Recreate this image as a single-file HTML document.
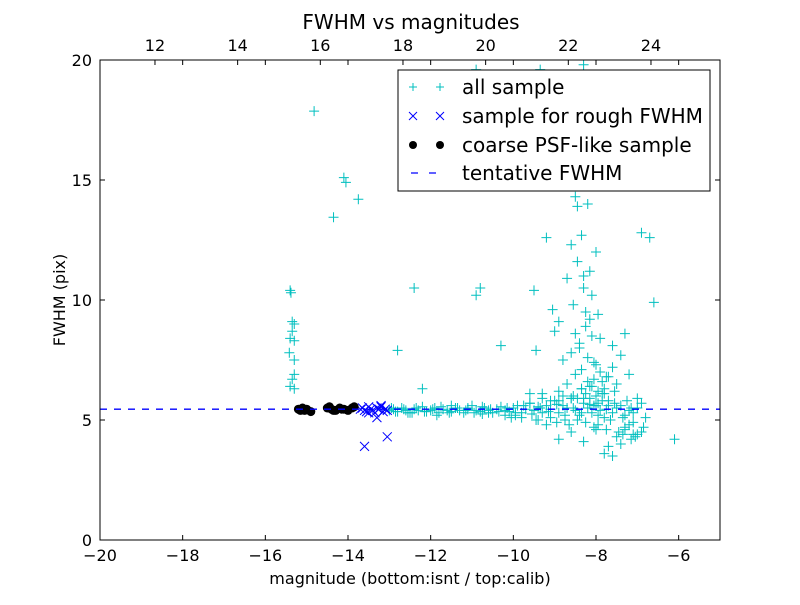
<!DOCTYPE html>
<html><head><meta charset="utf-8"><style>
body{margin:0;background:#fff;}
svg text{font-family:"DejaVu Sans","Liberation Sans",sans-serif;}
</style></head><body>
<svg id="chart" width="800" height="600">
<rect x="0" y="0" width="800" height="600" fill="#fff"/>
<g id="marks"></g>
<g id="axes"></g>
</svg>
<script>
const allMag=[-15.4,-15.38,-15.35,-15.3,-15.35,-15.4,-15.3,-15.3,-15.42,-15.3,-15.35,-15.4,-15.3,-14.82,-14.1,-14.05,-14.35,-13.75,-12.8,-12.4,-12.2,-10.9,-10.8,-10.3,-9.45,-9.5,-9.2,-9.05,-8.9,-8.3,-9.35,-10.9,-8.5,-8.45,-8.35,-8.2,-8.6,-8.15,-8.3,-8.0,-8.7,-8.55,-8.25,-8.1,-8.4,-8.2,-7.9,-7.6,-6.9,-6.7,-6.6,-7.3,-7.4,-8.8,-9.0,-8.5,-8.0,-7.85,-7.7,-8.35,-8.15,-7.95,-8.05,-7.5,-7.2,-7.0,-7.8,-7.6,-8.6,-8.9,-9.3,
-13.0,-12.9,-12.8,-12.7,-12.6,-12.5,-12.4,-12.3,-12.2,-12.1,-12.0,-11.9,-11.8,-11.7,-11.6,-11.5,-11.4,-11.3,-11.2,-11.1,-11.0,-10.9,-10.8,-10.7,-10.6,-10.5,-10.4,-10.3,-10.2,-10.1,-10.0,-9.9,-9.8,-9.7,-9.6,-9.5,-9.4,-9.3,-9.2,-9.1,-9.0,-8.9,-8.8,-8.7,-8.6,-8.5,-8.4,-8.3,-8.2,-8.1,-8.0,-7.9,-7.8,-7.7,-7.6,-7.5,-7.4,-7.3,-7.2,-7.1,-7.0,-6.9,-6.8,
-11.5,-11.1,-10.6,-10.2,-9.8,-9.6,-9.4,-9.1,-8.95,-8.75,-8.65,-8.45,-8.25,-8.05,-7.95,-7.75,-7.65,-7.45,-7.35,-7.15,-7.05,-6.85,-8.55,-8.35,-8.15,-7.85,-7.55,-7.25,-9.2,-8.9,-8.6,-8.3,-8.0,-7.7,-7.4,-7.1,-7.8,-7.6,-7.5,-6.1,-7.3,-7.2,-9.45,-10.05,-10.75,-11.85,-12.45,-9.95,
-12.95,-12.85,-12.65,-12.55,-12.35,-12.15,-11.95,-11.75,-11.55,-11.35,-11.15,-10.95,-10.75,-10.55,-10.35,-10.15,-9.95,-9.75,-9.55,-9.35,-9.15,-8.95,-8.75,-8.55,-8.35,-8.15,-7.95,-7.75,-7.55,-7.35,-7.15,
-8.45,-8.3,-8.1,-7.95,-8.25,-8.4,-8.05,-7.9,-8.2,-8.35,-8.0,-7.85,-8.15,-8.5,-8.6,-7.75,-8.1,-8.3,-7.7,-8.25,-7.95,-8.45,-7.8,-8.05,-9.6,-9.3,-9.1,-8.8,-7.3,-7.1,-7.0,-6.9,-8.7,-8.9];
const allFwhm=[10.4,10.3,9.1,9.0,8.7,8.4,8.3,7.5,7.8,6.9,6.7,6.4,6.3,17.87,15.1,14.9,13.45,14.2,7.9,10.5,6.3,10.2,10.5,8.1,7.9,10.4,12.6,9.6,9.1,19.8,19.6,19.6,14.3,13.9,12.7,14.0,12.3,11.2,10.5,12.0,10.9,9.8,9.5,8.5,8.2,7.6,8.4,8.1,12.8,12.6,9.9,8.6,7.7,7.5,8.7,6.9,7.3,6.6,6.8,7.1,6.4,6.2,6.7,6.5,6.9,5.9,6.1,7.2,5.9,6.2,6.1,
5.4,5.45,5.35,5.5,5.4,5.3,5.45,5.4,5.55,5.35,5.4,5.5,5.3,5.45,5.4,5.35,5.5,5.4,5.3,5.45,5.6,5.4,5.35,5.5,5.4,5.3,5.45,5.55,5.4,5.35,5.5,5.6,5.3,5.45,5.7,5.4,5.55,5.3,5.6,5.45,5.8,5.3,5.6,5.5,5.9,5.4,5.2,5.7,5.5,5.3,5.6,5.4,5.1,5.8,5.3,5.5,5.6,5.2,5.4,5.3,5.5,5.7,5.1,
5.6,5.5,5.3,5.2,5.1,5.7,5.0,5.1,4.9,5.0,4.8,5.0,4.9,4.7,4.8,4.6,5.0,4.5,4.4,4.2,4.3,4.7,6.0,6.3,5.9,6.1,6.2,5.8,4.8,4.2,4.5,4.1,4.6,3.9,4.0,4.4,3.6,3.5,4.3,4.2,4.7,4.8,5.0,5.1,5.25,5.2,5.3,5.2,
5.5,5.35,5.45,5.3,5.5,5.35,5.45,5.55,5.3,5.5,5.4,5.3,5.55,5.45,5.35,5.5,5.3,5.6,5.25,5.5,5.35,5.65,5.2,5.5,5.3,5.65,5.2,5.45,5.7,5.1,5.5,
11.6,11.0,10.2,9.4,8.9,8.0,7.4,7.0,6.6,6.3,6.0,5.8,9.2,8.6,7.8,6.8,6.4,5.9,5.6,6.1,5.7,5.9,6.3,5.6,6.1,5.9,5.8,6.0,4.6,4.9,4.4,4.5,6.5,5.8];
const roughMag=[-13.7,-13.65,-13.6,-13.55,-13.5,-13.45,-13.4,-13.35,-13.3,-13.25,-13.2,-13.15,-13.1,-13.05,-13.6,-13.05,-13.3,-13.5,-13.2];
const roughFwhm=[5.45,5.5,5.4,5.35,5.55,5.45,5.4,5.3,5.5,5.45,5.55,5.35,5.45,5.4,3.9,4.3,5.1,5.3,5.6];
const psfMag=[-15.2,-15.1,-15.05,-15.0,-14.9,-14.5,-14.45,-14.4,-14.3,-14.2,-14.1,-14.0,-13.9,-13.85,-14.35,-14.15,-15.15];
const psfFwhm=[5.45,5.5,5.4,5.45,5.35,5.5,5.55,5.45,5.4,5.5,5.45,5.4,5.5,5.55,5.4,5.45,5.4];
const tentative=5.45;
const xTicks=[-20,-18,-16,-14,-12,-10,-8,-6];
const topTicks=[12,14,16,18,20,22,24];
const yTicks=[0,5,10,15,20];
const L=100,R=720,T=60,B=540;
const xS=v=>L+(v+20)/15*(R-L);
const yS=v=>B-v/20*(B-T);
const tS=v=>L+(v-30.67+20)/15*(R-L);
const NS="http://www.w3.org/2000/svg";
function mk(tag,attrs,parent){const e=document.createElementNS(NS,tag);for(const k in attrs)e.setAttribute(k,attrs[k]);parent.appendChild(e);return e;}
const marks=document.getElementById('marks'),axes=document.getElementById('axes');
const clip=mk('clipPath',{id:'cp'},marks);mk('rect',{x:L,y:T,width:R-L,height:B-T},clip);
const g=mk('g',{'clip-path':'url(#cp)'},marks);
allMag.forEach((m,i)=>{const x=xS(m),y=yS(allFwhm[i]);
 const p=mk('path',{d:`M${x-5},${y}H${x+5}M${x},${y-5}V${y+5}`,stroke:'#00bfbf','stroke-width':1},g);
 
 });
roughMag.forEach((m,i)=>{const x=xS(m),y=yS(roughFwhm[i]);
 const p=mk('path',{d:`M${x-4.5},${y-4.5}L${x+4.5},${y+4.5}M${x-4.5},${y+4.5}L${x+4.5},${y-4.5}`,stroke:'#0000ff','stroke-width':1},g);
 
 });
psfMag.forEach((m,i)=>{
 const c=mk('circle',{cx:xS(m),cy:yS(psfFwhm[i]),r:4.5,fill:'#000'},g);
 
 });
const tl=mk('line',{x1:L,x2:R,y1:yS(tentative),y2:yS(tentative),stroke:'#0000ff','stroke-width':1.3,'stroke-dasharray':'7,7'},g);


const fr=mk('rect',{x:L,y:T,width:R-L,height:B-T,fill:'none',stroke:'#000','stroke-width':1},axes);


xTicks.forEach(v=>{const x=xS(v);
 mk('path',{d:`M${x},${B}v-5M${x},${T}v5`,stroke:'#000'},axes);
 const t=mk('text',{x:x,y:B+21,'text-anchor':'middle','font-size':16},axes);t.textContent=String(v).replace('-','\u2212');
 
 });
topTicks.forEach(v=>{const x=tS(v);
 mk('path',{d:`M${x},${T}v5`,stroke:'#000'},axes);
 const t=mk('text',{x:x,y:T-9,'text-anchor':'middle','font-size':16},axes);t.textContent=v;
 
 });
yTicks.forEach(v=>{const y=yS(v);
 mk('path',{d:`M${L},${y}h5M${R},${y}h-5`,stroke:'#000'},axes);
 const t=mk('text',{x:L-8,y:y+6,'text-anchor':'end','font-size':16},axes);t.textContent=v;
 
 });
</script>
<svg style="position:absolute;left:0;top:0" width="800" height="600">
<text x="411" y="29" text-anchor="middle" font-size="20">FWHM vs magnitudes</text>
<text x="410" y="584" text-anchor="middle" font-size="16">magnitude (bottom:isnt / top:calib)</text>
<text transform="translate(65,300) rotate(-90)" text-anchor="middle" font-size="16">FWHM (pix)</text>
<g>
<rect x="398" y="70" width="312" height="121" fill="#fff" stroke="#000"/>
<g>
<path d="M409,87h8M413,83v8M436,87h8M440,83v8" stroke="#00bfbf"/>
<text x="462" y="94" font-size="20">all sample</text></g>
<g>
<path d="M409,112l8,8M409,120l8,-8M436,112l8,8M436,120l8,-8" stroke="#0000ff"/>
<text x="462" y="123" font-size="20">sample for rough FWHM</text></g>
<g>
<circle cx="413" cy="145" r="4"/><circle cx="440" cy="145" r="4"/>
<text x="462" y="152" font-size="20">coarse PSF-like sample</text></g>
<g>
<path d="M411,173h7M429,173h7" stroke="#0000ff" stroke-width="1.3"/>
<text x="462" y="180" font-size="20">tentative FWHM</text></g>
</g>
</svg>
</body></html>
